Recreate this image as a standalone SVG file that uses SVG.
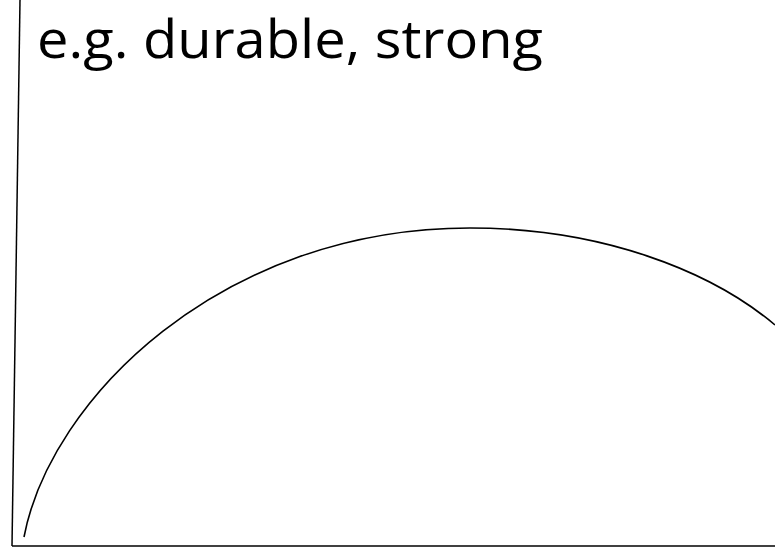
<svg xmlns="http://www.w3.org/2000/svg" width="775" height="548" viewBox="0 0 775 548">
<style>
.ax{stroke:#000;stroke-width:1.5;fill:none}
.cv{stroke:#000;stroke-width:1.6;fill:none}
.t{font-family:"Open Sans","Liberation Sans",sans-serif;font-size:53px;fill:#000}
</style>
<rect width="775" height="548" fill="#fff"/>
<g id="axes">
<line class="ax" x1="20" y1="0" x2="12" y2="546"/>
<line class="ax" x1="12" y1="546" x2="775" y2="546"/>
</g>
<g id="curve">
<path class="cv" d="M24,537 C50,400 220,228 470,228 C600,228 710,270 775,325"/>
</g>
<g id="label">
<text class="t" x="37" y="58" textLength="506" lengthAdjust="spacingAndGlyphs">e.g. durable, strong</text>
</g>
</svg>
